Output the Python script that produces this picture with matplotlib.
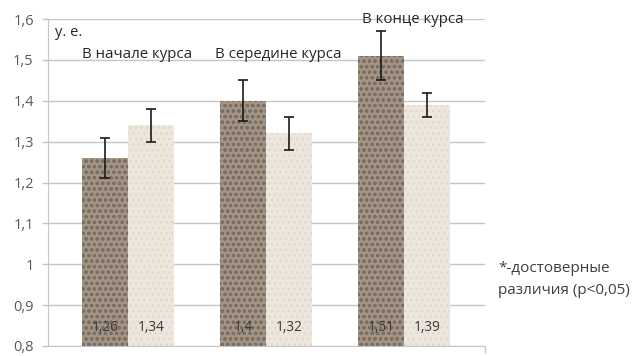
import numpy as np
import matplotlib
matplotlib.use("Agg")
import matplotlib.pyplot as plt

plt.rcParams['font.family'] = ['Open Sans', 'DejaVu Sans']
plt.rcParams['hatch.linewidth'] = 0.8

# Course stages and the two compared groups
stages = ["В начале курса", "В середине курса", "В конце курса"]
group_a = [1.26, 1.40, 1.51]
group_a_err = [0.05, 0.05, 0.06]
group_b = [1.34, 1.32, 1.39]
group_b_err = [0.04, 0.04, 0.03]
y_ticks = [0.8, 0.9, 1.0, 1.1, 1.2, 1.3, 1.4, 1.5, 1.6]
y_tick_labels = ["0,8", "0,9", "1", "1,1", "1,2", "1,3", "1,4", "1,5", "1,6"]

fig = plt.figure(figsize=(6.38, 3.56), dpi=100)
ax = fig.add_axes([0.0752, 0.0281, 0.6850, 0.9185])

x = np.arange(len(stages))
w = 0.333
grid_c = "#c6c6c6"
text_c = "#595959"

bars_a = ax.bar(x - w / 2, group_a, w, bottom=0, color="#a39486",
                edgecolor="#7a6d63", hatch="ooo", linewidth=0, zorder=2)
bars_b = ax.bar(x + w / 2, group_b, w, bottom=0, color="#ece6dc",
                edgecolor="#ded6c9", hatch="...", linewidth=0, zorder=2)

ax.errorbar(x - w / 2, group_a, yerr=group_a_err, fmt="none", ecolor="#1a1a1a",
            elinewidth=1.2, capsize=3.5, capthick=1.2, zorder=3)
ax.errorbar(x + w / 2, group_b, yerr=group_b_err, fmt="none", ecolor="#1a1a1a",
            elinewidth=1.2, capsize=3.5, capthick=1.2, zorder=3)

ax.set_ylim(0.8, 1.6)
ax.set_xlim(-0.58, 2.587)
ax.set_yticks(y_ticks)
ax.set_yticklabels(y_tick_labels)
ax.yaxis.grid(True, color=grid_c, linewidth=1.0, zorder=0)
ax.set_axisbelow(True)
ax.tick_params(axis="y", length=4.3, width=1.0, color=grid_c, pad=6,
               labelsize=10.5, labelcolor=text_c)
ax.set_xticks([2.587])
ax.set_xticklabels([""])
ax.tick_params(axis="x", length=5, width=1.0, color=grid_c)

for side in ["top", "right"]:
    ax.spines[side].set_visible(False)
ax.spines["left"].set_color(grid_c)
ax.spines["bottom"].set_color(grid_c)

# Values written at the foot of each bar
for xs, vals in ((x - w / 2, group_a), (x + w / 2, group_b)):
    for xi, v in zip(xs, vals):
        ax.text(xi, 0.845, f"{v:g}".replace(".", ","), ha="center", va="center",
                fontsize=9.8, color="#3a3a3a", zorder=4)

# Stage captions
caption_pos = [(0.065, 1.512), (1.087, 1.512), (2.065, 1.600)]
for name, (cx, cy) in zip(stages, caption_pos):
    ax.text(cx, cy, name, ha="center", va="center", fontsize=10.8,
            color="#262626", zorder=4)

ax.text(-0.529, 1.566, "у. е.", ha="left", va="center", fontsize=10.5,
        color="#262626")

fig.text(0.781, 0.247, "*-достоверные", ha="left", va="center",
         fontsize=11, color="#404040")
fig.text(0.781, 0.185, "различия (р<0,05)", ha="left", va="center",
         fontsize=11, color="#404040")

fig.savefig("out.png", dpi=100)
